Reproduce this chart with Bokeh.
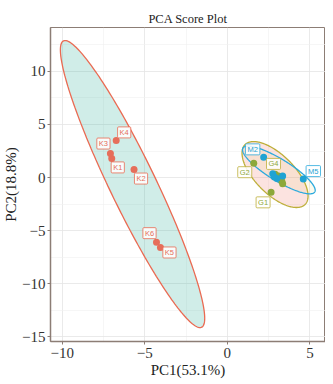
import numpy as np
from bokeh.plotting import figure
from bokeh.models import Range1d, FixedTicker, ColumnDataSource
from bokeh.core.properties import value
from bokeh.embed import file_html
from bokeh.resources import INLINE

# ---- data ----
samples = ["K1", "K2", "K3", "K4", "K5", "K6",
           "G1", "G2", "G3", "G4", "G5", "G6",
           "M1", "M2", "M3", "M4", "M5", "M6"]
groups = ["K"] * 6 + ["G"] * 6 + ["M"] * 6
pc1 = [-7.00, -5.65, -7.08, -6.73, -4.05, -4.29,
       2.65, 1.60, 3.30, 3.10, 3.35, 2.90,
       2.75, 2.20, 3.35, 3.00, 4.60, 2.85]
pc2 = [1.80, 0.75, 2.26, 3.50, -6.60, -6.10,
       -1.40, 1.35, -0.35, 0.15, -0.60, 0.30,
       0.35, 1.90, 0.15, -0.10, -0.15, 0.05]

# confidence ellipses: centre, half extents and correlation
ell_group = ["K", "G", "M"]
ell_cx = [-5.74, 2.89, 3.12]
ell_cy = [-0.62, 0.28, 0.71]
ell_sx = [4.37, 2.00, 2.20]
ell_sy = [13.54, 3.11, 2.25]
ell_rho = [-0.935, -0.65, -0.85]

x_ticks = [-10, -5, 0, 5]
y_ticks = [-15, -10, -5, 0, 5, 10]
x_label = "PC1(53.1%)"
y_label = "PC2(18.8%)"
title = "PCA Score Plot"

# labelled samples (label offsets in px, right / up, as placed by the repel layout)
label_offsets = {
    "K1": (6, -9), "K2": (7, -9), "K3": (-7, 10), "K4": (8, 8),
    "K5": (9, -5), "K6": (-7, 9),
    "G1": (-8, -10), "G2": (-9, -9), "G4": (-5, 12),
    "M2": (-11, 8), "M5": (10, 8),
}

# ---- styles ----
point_col = {"K": "#E66E5A", "G": "#8DA83A", "M": "#1FA3D3"}
line_col = {"K": "#EA6A52", "G": "#BDAE38", "M": "#2AA9DD"}
fill_col = {"K": "#49B8A8", "G": "#F08070", "M": "#D8D050"}
fill_alpha = {"K": 0.26, "G": 0.22, "M": 0.10}
SERIF = "Liberation Serif"

p = figure(width=325, height=384,
           x_range=Range1d(-10.709, 5.945), y_range=Range1d(-15.47, 14.15),
           output_backend="svg", toolbar_location=None, title=title,
           min_border_left=43, min_border_right=0,
           min_border_top=27, min_border_bottom=43)

p.title.align = "center"
p.title.text_font = SERIF
p.title.text_font_size = "12.5px"
p.title.text_font_style = "normal"
p.title.text_color = "#222222"
p.title.standoff = 3

p.background_fill_color = "white"
p.border_fill_color = "white"
p.outline_line_color = "#8C7D75"
p.outline_line_width = 1

p.xaxis.ticker = FixedTicker(ticks=x_ticks, minor_ticks=[-12.5, -7.5, -2.5, 2.5, 7.5])
p.yaxis.ticker = FixedTicker(ticks=y_ticks,
                             minor_ticks=[-17.5, -12.5, -7.5, -2.5, 2.5, 7.5, 12.5])
p.xaxis.axis_label = x_label
p.yaxis.axis_label = y_label
for ax in (p.xaxis, p.yaxis):
    ax.axis_label_text_font = SERIF
    ax.axis_label_text_font_size = "15px"
    ax.axis_label_text_font_style = "normal"
    ax.axis_label_text_color = "#222222"
    ax.major_label_text_font = SERIF
    ax.major_label_text_font_size = "15px"
    ax.major_label_text_color = "#333333"
    ax.axis_line_color = "#8C7D75"
    ax.axis_line_width = 1.5
    ax.major_tick_line_color = "#8C7D75"
    ax.major_tick_out = 3
    ax.major_tick_in = 0
    ax.minor_tick_line_color = None
p.xaxis.axis_label_standoff = 1
p.xaxis.major_label_standoff = 2
p.yaxis.axis_label_standoff = 0
p.yaxis.major_label_standoff = 1

for g in (p.xgrid, p.ygrid):
    g.grid_line_color = "#E4E4E4"
    g.grid_line_width = 0.8
    g.minor_grid_line_color = "#F0F0F0"
    g.minor_grid_line_width = 0.6

# ---- ellipses ----
t = np.linspace(0, 2 * np.pi, 240)
for g, cx, cy, sx, sy, rho in zip(ell_group, ell_cx, ell_cy, ell_sx, ell_sy, ell_rho):
    ex = cx + sx * np.cos(t)
    ey = cy + sy * np.cos(t - np.arccos(rho))
    p.patch(ex, ey, fill_color=fill_col[g], fill_alpha=fill_alpha[g],
            line_color=line_col[g], line_width=1.3)

# ---- points and labels ----
for g in ["K", "G", "M"]:
    idx = [i for i, gg in enumerate(groups) if gg == g]
    src = ColumnDataSource(dict(x=[pc1[i] for i in idx], y=[pc2[i] for i in idx]))
    p.scatter("x", "y", source=src, size=7, fill_color=point_col[g], line_color=None)

for g in ["K", "G", "M"]:
    idx = [i for i, gg in enumerate(groups) if gg == g and samples[i] in label_offsets]
    lsrc = ColumnDataSource(dict(
        x=[pc1[i] for i in idx], y=[pc2[i] for i in idx],
        name=[samples[i] for i in idx],
        dx=[label_offsets[samples[i]][0] for i in idx],
        dy=[-label_offsets[samples[i]][1] for i in idx]))
    p.text("x", "y", text="name", source=lsrc,
           x_offset="dx", y_offset="dy",
           text_align="center", text_baseline="middle",
           text_font=value("Liberation Sans"), text_font_size="7.5px",
           text_color=point_col[g],
           background_fill_color="white", background_fill_alpha=0.85,
           border_line_color=line_col[g], border_line_width=0.8,
           padding=(2, 1), border_radius=1)

open("out.html", "w").write(file_html(p, INLINE))
